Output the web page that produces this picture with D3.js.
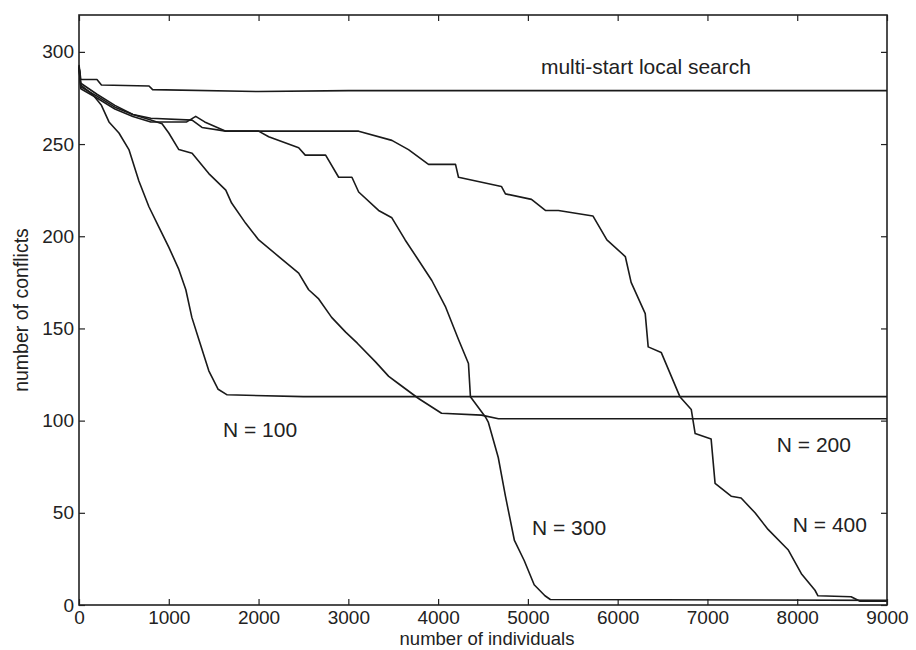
<!DOCTYPE html>
<html lang="en">
<head>
  <meta charset="UTF-8">
  <script src="https://d3js.org/d3.v7.min.js"></script>
  <style>
    body { margin: 0; background: #fff; }
    text { font-family: "Liberation Sans", Arial, sans-serif; fill: #222; }
  </style>
  <title>number of conflicts</title>
</head>
<body>
  <svg id="chart" width="916" height="650"></svg>
  <script>
    // tick values
    var xTicks = [0, 1000, 2000, 3000, 4000, 5000, 6000, 7000, 8000, 9000];
    var yTicks = [0, 50, 100, 150, 200, 250, 300];

    // series: [number of individuals, number of conflicts]
    var multiStart = [[0, 293], [20, 285], [200, 285], [250, 282], [780, 281.5], [820, 279.5],
      [2000, 278.5], [3000, 279], [9000, 279]];
    var n100 = [[0, 292], [20, 282], [150, 277], [250, 271], [334, 262], [445, 256], [556, 247],
      [667, 230], [779, 216], [890, 205], [1001, 194], [1112, 182], [1190, 171], [1257, 156],
      [1335, 144], [1446, 127], [1550, 117], [1650, 114], [2500, 113], [9000, 113]];
    var n200 = [[0, 292], [20, 281], [200, 276], [400, 270], [600, 266], [800, 263], [925, 261],
      [1000, 256], [1112, 247], [1260, 245], [1446, 234], [1635, 225], [1700, 218], [1857, 207],
      [2002, 198], [2225, 189], [2447, 180], [2558, 171], [2670, 166], [2814, 156], [2970, 148],
      [3100, 142], [3300, 132], [3450, 124], [3560, 120], [3782, 112], [4038, 104], [4483, 103],
      [4672, 101], [9000, 101]];
    var n300 = [[0, 292], [20, 283], [200, 277], [400, 271], [600, 266], [800, 264], [1260, 263],
      [1370, 259], [1635, 257], [2000, 257], [2113, 254], [2447, 248], [2520, 244], [2747, 244],
      [2892, 232], [3040, 232], [3115, 224], [3337, 214], [3485, 210], [3633, 198], [3782, 187],
      [3930, 176], [4080, 162], [4227, 144], [4338, 131], [4360, 113], [4527, 102], [4560, 99],
      [4670, 80], [4750, 59], [4850, 35], [4960, 24], [5070, 11], [5190, 5], [5250, 3], [9000, 2.5]];
    var n400 = [[0, 292], [20, 280], [200, 275], [400, 269], [600, 265], [800, 262], [1200, 262],
      [1300, 265], [1400, 262], [1635, 257], [3115, 257], [3485, 252], [3670, 247], [3893, 239],
      [4194, 239], [4227, 232], [4705, 227], [4750, 223], [5040, 220], [5195, 214], [5340, 214],
      [5724, 211], [5880, 198], [6085, 189], [6150, 175], [6307, 158], [6340, 140], [6485, 137],
      [6693, 113], [6820, 106], [6863, 93], [7041, 90], [7085, 66], [7264, 59], [7375, 58],
      [7530, 50], [7675, 41], [7898, 30], [8046, 17], [8198, 8], [8231, 5], [8600, 4.5],
      [8700, 2], [9000, 2]];

    var svg = d3.select('#chart');
    var x = d3.scaleLinear().domain([0, 9000]).range([79, 887]);
    var y = d3.scaleLinear().domain([0, 320]).range([605, 15]);

    function styleAxis(g) {
      g.select('.domain').remove();
      g.selectAll('line').attr('stroke', '#222').attr('stroke-width', 1.2);
      g.selectAll('text').attr('font-size', 19).attr('fill', '#222')
        .attr('font-family', '"Liberation Sans", Arial, sans-serif');
    }

    svg.append('g').attr('transform', 'translate(0,605)')
      .call(d3.axisBottom(x).tickValues(xTicks).tickSize(-6).tickPadding(6).tickFormat(d3.format('d')))
      .call(styleAxis);
    svg.append('g').attr('transform', 'translate(0,15)')
      .call(d3.axisTop(x).tickValues(xTicks).tickSize(-6).tickFormat(''))
      .call(styleAxis);
    svg.append('g').attr('transform', 'translate(79,0)')
      .call(d3.axisLeft(y).tickValues(yTicks).tickSize(-6).tickPadding(5))
      .call(styleAxis);
    svg.append('g').attr('transform', 'translate(887,0)')
      .call(d3.axisRight(y).tickValues(yTicks).tickSize(-6).tickFormat(''))
      .call(styleAxis);

    svg.append('rect')
      .attr('x', x(0)).attr('y', y(320))
      .attr('width', x(9000) - x(0)).attr('height', y(0) - y(320))
      .attr('fill', 'none').attr('stroke', '#222').attr('stroke-width', 1.6);

    var line = d3.line().x(function(d) { return x(d[0]); }).y(function(d) { return y(d[1]); });
    [multiStart, n100, n200, n300, n400].forEach(function(s) {
      svg.append('path').datum(s)
        .attr('d', line)
        .attr('fill', 'none')
        .attr('stroke', '#1a1a1a')
        .attr('stroke-width', 1.6)
        .attr('stroke-linejoin', 'round');
    });

    // curve labels
    var notes = [
      ['multi-start local search', 5145, 288],
      ['N = 100', 1604, 91],
      ['N = 200', 7773, 83],
      ['N = 300', 5045, 38],
      ['N = 400', 7951, 39.5]
    ];
    svg.selectAll('text.note').data(notes).enter().append('text')
      .attr('class', 'note')
      .attr('x', function(d) { return x(d[1]); })
      .attr('y', function(d) { return y(d[2]); })
      .attr('font-size', 21)
      .text(function(d) { return d[0]; });

    svg.append('text')
      .attr('x', 487).attr('y', 645)
      .attr('text-anchor', 'middle')
      .attr('font-size', 18.5)
      .text('number of individuals');

    svg.append('text')
      .attr('transform', 'translate(28,310) rotate(-90)')
      .attr('text-anchor', 'middle')
      .attr('font-size', 19.5)
      .text('number of conflicts');
  </script>
</body>
</html>
